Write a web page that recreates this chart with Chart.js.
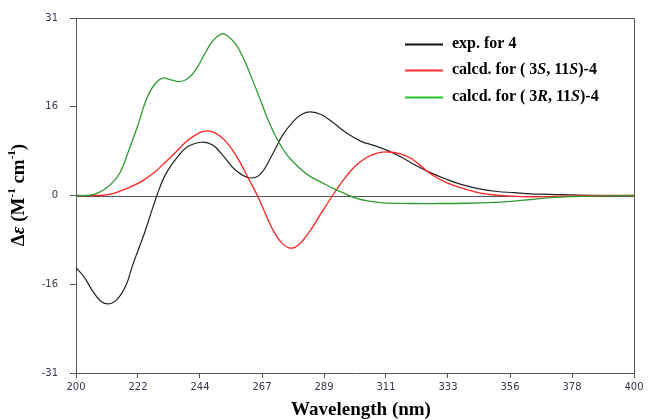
<!DOCTYPE html>
<html>
<head>
<meta charset="utf-8">
<script src="https://cdn.jsdelivr.net/npm/chart.js@4"></script>
<style>
  html, body { margin: 0; background: #fff; }
  #wrap { width: 648px; height: 420px; }
</style>
</head>
<body>
<div id="wrap"><canvas id="cd"></canvas></div>
<script>
// data
const expX = [200, 203, 206, 209, 212, 215, 218, 220, 222, 224, 226, 229, 232, 236, 240, 245, 249, 253, 257, 262, 266, 270, 274, 278, 281, 284, 288, 292, 297, 302, 307, 312, 317, 322, 327, 333, 339, 345, 351, 357, 363, 370, 380, 390, 400];
const expY = [-12.6, -14.3, -16.7, -18.5, -18.9, -18.0, -15.6, -12.6, -9.9, -7.3, -4.4, 0, 3.6, 6.5, 8.5, 9.3, 8.8, 6.8, 4.5, 3.1, 3.7, 6.8, 10.5, 13.0, 14.2, 14.6, 14.1, 12.8, 10.9, 9.5, 8.7, 7.8, 6.6, 5.2, 4.0, 2.8, 1.8, 1.1, 0.7, 0.5, 0.3, 0.2, 0.05, 0, 0];

const calcSX = [200, 208, 212, 216, 220, 224, 228, 232, 236, 240, 244, 247, 250, 253, 256, 259, 262, 265, 268, 271, 274, 277, 280, 284, 288, 292, 296, 300, 304, 308, 312, 316, 320, 324, 328, 333, 339, 345, 351, 360, 370, 380, 390, 400];
const calcSY = [0, 0, 0.2, 0.8, 1.6, 2.6, 4.0, 5.8, 7.7, 9.6, 10.9, 11.3, 10.9, 9.8, 8.0, 5.6, 2.8, 0, -3.3, -6.4, -8.4, -9.2, -8.5, -6.1, -3.0, 0, 2.8, 5.1, 6.6, 7.4, 7.6, 7.3, 6.5, 5.0, 3.5, 2.2, 1.2, 0.4, 0.05, -0.2, -0.2, -0.05, 0, 0];

const calcRX = [200, 204, 207, 210, 213, 216, 219, 222, 225, 228, 231, 234, 237, 240, 243, 246, 249, 252, 254, 257, 260, 263, 266, 269, 272, 275, 278, 281, 284, 288, 292, 296, 300, 305, 310, 320, 330, 340, 350, 357, 363, 369, 375, 381, 390, 400];
const calcRY = [0, 0, 0.3, 1.0, 2.2, 4.2, 8.0, 12.0, 16.5, 19.3, 20.5, 20.2, 19.9, 20.4, 22.0, 24.6, 27.0, 28.2, 28.0, 26.6, 24.0, 20.5, 16.8, 13.0, 9.9, 7.5, 5.8, 4.4, 3.3, 2.3, 1.3, 0.4, -0.4, -1.0, -1.3, -1.4, -1.4, -1.35, -1.2, -1.0, -0.7, -0.4, -0.25, -0.15, -0.05, 0];

const xTicks = [200, 222.22, 244.44, 266.67, 288.89, 311.11, 333.33, 355.56, 377.78, 400];
const xTickLabels = ['200', '222', '244', '267', '289', '311', '333', '356', '378', '400'];
const yTicks = [-31, -15.5, 0, 15.5, 31];
const yTickLabels = ['-31', '-16', '0', '16', '31'];

const seriesNames = ['exp. for 4', 'calcd. for ( 3S, 11S)-4', 'calcd. for ( 3R, 11S)-4'];

const tickFont = { family: 'DejaVu Sans', size: 10 };
const tickColor = '#3c3450';
const axisColor = '#555';

function pts(xs, ys) {
    return xs.map((x, i) => ({ x: x, y: ys[i] }));
}

// draw a row of text pieces with different fonts
function drawRuns(ctx, runs, x, y) {
    let cx = x;
    runs.forEach(r => {
        ctx.font = r.font;
        ctx.fillText(r.text, cx, y - (r.dy || 0));
        cx += ctx.measureText(r.text).width;
    });
    return cx - x;
}
function runsWidth(ctx, runs) {
    let w = 0;
    runs.forEach(r => { ctx.font = r.font; w += ctx.measureText(r.text).width; });
    return w;
}

const B = 'bold 16px "Liberation Serif"';
const BI = 'italic bold 16px "Liberation Serif"';
const legendRows = [
    { color: '#111', runs: [{ text: 'exp. for 4', font: B }] },
    { color: '#ff3030', runs: [{ text: 'calcd. for ( 3', font: B }, { text: 'S', font: BI }, { text: ', 11', font: B }, { text: 'S', font: BI }, { text: ')-4', font: B }] },
    { color: '#22c022', runs: [{ text: 'calcd. for ( 3', font: B }, { text: 'R', font: BI }, { text: ', 11', font: B }, { text: 'S', font: BI }, { text: ')-4', font: B }] }
];

const framePlugin = {
    id: 'frame',
    beforeDatasetsDraw(chart) {
        const ctx = chart.ctx, a = chart.chartArea;
        const y0 = chart.scales.y.getPixelForValue(0);
        ctx.save();
        ctx.strokeStyle = axisColor;
        ctx.lineWidth = 1;
        ctx.beginPath();
        ctx.moveTo(a.left, Math.round(y0) + 0.5);
        ctx.lineTo(a.right, Math.round(y0) + 0.5);
        ctx.moveTo(a.left - 6, a.top + 0.5);
        ctx.lineTo(a.right + 0.5, a.top + 0.5);
        ctx.lineTo(a.right + 0.5, a.bottom);
        ctx.stroke();
        ctx.restore();
    },
    afterDraw(chart) {
        const ctx = chart.ctx;
        ctx.save();
        ctx.fillStyle = '#000';
        ctx.textBaseline = 'middle';

        // legend
        legendRows.forEach((row, i) => {
            const y = [44, 70, 97][i];
            ctx.strokeStyle = row.color;
            ctx.lineWidth = 2;
            ctx.beginPath();
            ctx.moveTo(405, y + 0.5);
            ctx.lineTo(443, y + 0.5);
            ctx.stroke();
            drawRuns(ctx, row.runs, 452, y);
        });

        // x title
        ctx.font = 'bold 19px "Liberation Serif"';
        ctx.textAlign = 'center';
        ctx.fillText('Wavelength (nm)', 361, 410);

        // y title
        const F = 'bold 19px "Liberation Serif"';
        const S = 'bold 11px "Liberation Serif"';
        const yRuns = [
            { text: 'Δ', font: F }, { text: 'ε', font: 'italic bold 19px "Liberation Serif"' },
            { text: ' (M', font: F }, { text: '-1', font: S, dy: 7 },
            { text: ' cm', font: F }, { text: '-1', font: S, dy: 7 }, { text: ')', font: F }
        ];
        ctx.textAlign = 'left';
        ctx.translate(19, 195);
        ctx.rotate(-Math.PI / 2);
        const w = runsWidth(ctx, yRuns);
        drawRuns(ctx, yRuns, -w / 2, 0);
        ctx.restore();
    }
};

new Chart(document.getElementById('cd'), {
    type: 'line',
    data: {
        datasets: [
            { label: seriesNames[2], data: pts(calcRX, calcRY), borderColor: '#2f9a2f', borderWidth: 1.3 },
            { label: seriesNames[1], data: pts(calcSX, calcSY), borderColor: '#ff2222', borderWidth: 1.3 },
            { label: seriesNames[0], data: pts(expX, expY), borderColor: '#222', borderWidth: 1.2 }
        ]
    },
    options: {
        responsive: true,
        maintainAspectRatio: false,
        animation: false,
        devicePixelRatio: 1,
        parsing: false,
        elements: {
            point: { radius: 0 },
            line: { tension: 0.4, fill: false }
        },
        layout: { padding: { top: 17, right: 14, left: 0, bottom: 0 } },
        plugins: { legend: { display: false }, tooltip: { enabled: false } },
        scales: {
            x: {
                type: 'linear',
                min: 200, max: 400,
                afterBuildTicks: s => { s.ticks = xTicks.map(v => ({ value: v })); },
                afterFit: s => { s.height = 47; },
                ticks: {
                    callback: (v, i) => xTickLabels[i],
                    font: tickFont, color: tickColor,
                    maxRotation: 0, autoSkip: false, padding: 3
                },
                grid: { drawOnChartArea: false, tickLength: 5, color: axisColor },
                border: { color: axisColor, width: 1 }
            },
            y: {
                min: -31, max: 31,
                afterBuildTicks: s => { s.ticks = yTicks.map(v => ({ value: v })); },
                afterFit: s => { s.width = 76; },
                ticks: {
                    callback: (v, i) => yTickLabels[i],
                    font: tickFont, color: tickColor, padding: 12
                },
                grid: { drawOnChartArea: false, tickLength: 6, color: axisColor },
                border: { color: axisColor, width: 1 }
            }
        }
    },
    plugins: [framePlugin]
});
</script>
</body>
</html>
